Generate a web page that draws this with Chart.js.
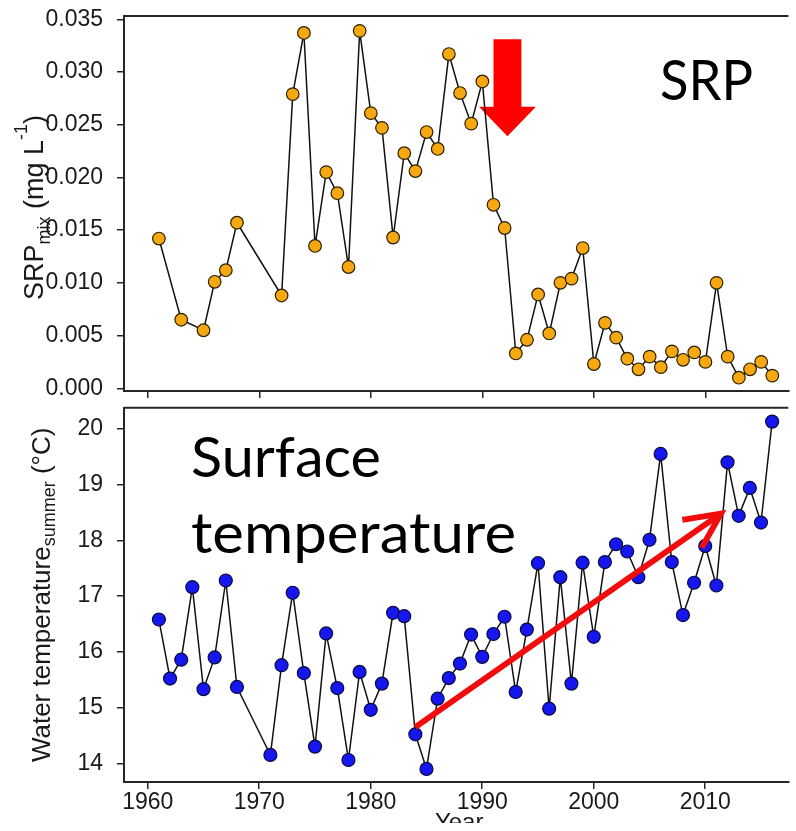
<!DOCTYPE html>
<html>
<head>
<meta charset="utf-8">
<script src="https://cdn.jsdelivr.net/npm/chart.js@4.4.1/dist/chart.umd.min.js"></script>
<style>
html,body{margin:0;padding:0;background:#fff;overflow:hidden;}
#wrap{position:relative;width:796px;height:831px;background:#fff;}
#srpChart{position:absolute;left:0;top:0;}
#tempChart{position:absolute;left:0;top:400px;}
</style>
</head>
<body>
<div id="wrap">
  <canvas id="srpChart" width="796" height="400"></canvas>
  <canvas id="tempChart" width="796" height="431"></canvas>
</div>
<script>
// SRP in the mixed layer (mg/L), yearly
const srpYears=[1961,1963,1965,1966,1967,1968,
  1972,1973,1974,1975,1976,1977,1978,1979,1980,1981,
  1982,1983,1984,1985,1986,1987,1988,1989,1990,1991,1992,1993,1994,1995,1996,1997,1998,1999,
  2000,2001,2002,2003,2004,2005,2006,2007,2008,2009,2010,2011,2012,2013,2014,2015,2016];
const srpValues=[0.0142,0.0065,0.0055,0.0101,0.0112,0.0157,
  0.0088,0.0279,0.0337,0.0135,0.0205,0.0185,0.0115,0.0339,0.0261,0.0247,
  0.0143,0.0223,0.0206,0.0243,0.0227,0.0317,0.0280,0.0251,0.0291,0.0174,0.0152,0.0033,0.0046,0.0089,0.0052,0.0100,0.0104,0.0133,
  0.0023,0.0062,0.0048,0.0028,0.0018,0.0030,0.0020,0.0035,0.0027,0.0034,0.0025,0.0100,0.0030,0.0010,0.0018,0.0025,0.0012];

// summer surface water temperature (°C)
const tempYears=[1961,1962,1963,1964,1965,1966,1967,1968,
  1971,1972,1973,1974,1975,1976,1977,1978,1979,1980,
  1981,1982,1983,1984,1985,1986,1987,1988,1989,1990,
  1991,1992,1993,1994,1995,1996,1997,1998,1999,2000,
  2001,2002,2003,2004,2005,2006,2007,2008,2009,2010,
  2011,2012,2013,2014,2015,2016];
const tempValues=[16.58,15.52,15.86,17.16,15.33,15.90,17.28,15.37,
  14.15,15.76,17.06,15.62,14.30,16.33,15.35,14.06,15.64,14.96,
  15.43,16.70,16.64,14.52,13.90,15.16,15.53,15.79,16.31,15.91,
  16.32,16.63,15.28,16.40,17.59,14.98,17.34,15.43,17.60,16.27,
  17.61,17.93,17.80,17.34,18.01,19.55,17.61,16.66,17.24,17.90,
  17.19,19.40,18.44,18.94,18.32,20.13];

const yearTicks=[1960,1970,1980,1990,2000,2010];
const srpTicks=[0,0.005,0.010,0.015,0.020,0.025,0.030,0.035];
const tempTicks=[14,15,16,17,18,19,20];

// arrow annotations, in axis units
const srpDropArrow={shaftL:1991.0,shaftR:1993.5,headL:1989.7,headR:1994.8,tipX:1992.25,top:0.0331,neck:0.0267,tip:0.0239};
const warmingArrow={x0:1984.0,y0:14.65,x1:2011.4,y1:18.48};

const SANS="'Liberation Sans', Arial, sans-serif";
const BIG="56px Lato, 'Open Sans', sans-serif";
const AXIS_COLOR="#262626";
const TEXT_COLOR="#1a1a1a";

function pairs(xs,ys){ return xs.map((x,i)=>({x:x,y:ys[i]})); }
function fixedTicks(list){ return function(axis){ axis.ticks=list.map(v=>({value:v})); }; }
// pin an axis box to a fixed size and drop label-overflow padding
function pinBox(w,h){
  return function(s){
    if(w!=null) s.width=w;
    if(h!=null) s.height=h;
    s.paddingTop=0; s.paddingBottom=0; s.paddingLeft=0; s.paddingRight=0;
  };
}

function drawVerticalTitle(ctx,parts,x,yMid){
  ctx.save();
  let total=0;
  parts.forEach(p=>{ ctx.font=p.size+"px "+SANS; p.w=ctx.measureText(p.text).width; total+=p.w; });
  ctx.translate(x,yMid);
  ctx.rotate(-Math.PI/2);
  ctx.fillStyle=TEXT_COLOR;
  ctx.textAlign="left";
  ctx.textBaseline="alphabetic";
  let cx=-total/2;
  parts.forEach(p=>{ ctx.font=p.size+"px "+SANS; ctx.fillText(p.text,cx,p.shift||0); cx+=p.w; });
  ctx.restore();
}

// big slide-style label, squeezed/stretched to a given width
function bigLabel(ctx,text,x,y,width){
  ctx.save();
  ctx.fillStyle="#000";
  ctx.font=BIG;
  ctx.textBaseline="alphabetic";
  const w=ctx.measureText(text).width;
  ctx.translate(x,y);
  ctx.scale(width/w,1);
  ctx.fillText(text,0,0);
  ctx.restore();
}

function topFrame(chart){
  const a=chart.chartArea, ctx=chart.ctx;
  ctx.save();
  ctx.strokeStyle=AXIS_COLOR;
  ctx.lineWidth=2;
  ctx.beginPath();
  ctx.moveTo(a.left,a.top);
  ctx.lineTo(a.right,a.top);
  ctx.stroke();
  ctx.restore();
}

function xScaleOpts(labels,h){
  return {
    type:"linear",min:1957.87,max:2017.45,
    afterBuildTicks:fixedTicks(yearTicks),
    afterFit:pinBox(null,h),
    border:{display:true,color:AXIS_COLOR,width:2},
    grid:{drawOnChartArea:false,drawTicks:true,tickLength:7,color:AXIS_COLOR,lineWidth:1.5},
    ticks:{display:labels,color:TEXT_COLOR,font:{family:SANS,size:23},padding:0,maxRotation:0,autoSkip:false,
      callback:v=>String(v)}
  };
}

function yScaleOpts(min,max,list,fmt){
  return {
    min:min,max:max,
    afterBuildTicks:fixedTicks(list),
    afterFit:pinBox(124,null),
    border:{display:true,color:AXIS_COLOR,width:2},
    grid:{drawOnChartArea:false,drawTicks:true,tickLength:7,color:AXIS_COLOR,lineWidth:1.5},
    ticks:{color:TEXT_COLOR,font:{family:SANS,size:23},padding:14,autoSkip:false,callback:fmt}
  };
}

// --- SRP panel ---
new Chart(document.getElementById("srpChart"),{
  type:"line",
  data:{datasets:[{
    data:pairs(srpYears,srpValues),
    borderColor:"#111",borderWidth:1.5,
    pointRadius:6.3,pointHoverRadius:6.3,pointBorderWidth:1.2,
    pointBackgroundColor:"#F5A810",pointBorderColor:"#2a2000",
    tension:0
  }]},
  options:{
    responsive:false,animation:false,
    layout:{padding:{top:16,right:0,bottom:0,left:0}},
    plugins:{legend:{display:false},tooltip:{enabled:false}},
    scales:{
      x:xScaleOpts(false,9),
      y:yScaleOpts(-0.00026,0.03531,srpTicks,v=>v.toFixed(3))
    }
  },
  plugins:[{
    id:"srpDecor",
    beforeDatasetsDraw(chart){
      const ctx=chart.ctx, xs=chart.scales.x, ys=chart.scales.y, A=srpDropArrow;
      const X=v=>xs.getPixelForValue(v), Y=v=>ys.getPixelForValue(v);
      ctx.save();
      ctx.fillStyle="#FF0000";
      ctx.beginPath();
      ctx.moveTo(X(A.shaftL),Y(A.top));
      ctx.lineTo(X(A.shaftR),Y(A.top));
      ctx.lineTo(X(A.shaftR),Y(A.neck));
      ctx.lineTo(X(A.headR),Y(A.neck));
      ctx.lineTo(X(A.tipX),Y(A.tip));
      ctx.lineTo(X(A.headL),Y(A.neck));
      ctx.lineTo(X(A.shaftL),Y(A.neck));
      ctx.closePath();
      ctx.fill();
      ctx.restore();
    },
    afterDraw(chart){
      const ctx=chart.ctx, a=chart.chartArea;
      topFrame(chart);
      drawVerticalTitle(ctx,[
        {text:"SRP",size:27},
        {text:"mix",size:18,shift:7},
        {text:" (mg L",size:27},
        {text:"-1",size:18,shift:-16},
        {text:")",size:27}
      ],43,(a.top+a.bottom)/2+4);
      bigLabel(ctx,"SRP",660,100,93);
    }
  }]
});

// --- temperature panel ---
new Chart(document.getElementById("tempChart"),{
  type:"line",
  data:{datasets:[{
    data:pairs(tempYears,tempValues),
    borderColor:"#111",borderWidth:1.5,
    pointRadius:6.5,pointHoverRadius:6.5,pointBorderWidth:1.2,
    pointBackgroundColor:"#1616EE",pointBorderColor:"#0a0a40",
    tension:0
  }]},
  options:{
    responsive:false,animation:false,
    layout:{padding:{top:7,right:0,bottom:0,left:0}},
    plugins:{legend:{display:false},tooltip:{enabled:false}},
    scales:{
      x:xScaleOpts(true,49),
      y:yScaleOpts(13.665,20.38,tempTicks,v=>String(v))
    }
  },
  plugins:[{
    id:"tempDecor",
    afterDatasetsDraw(chart){
      const ctx=chart.ctx, xs=chart.scales.x, ys=chart.scales.y, A=warmingArrow;
      const x0=xs.getPixelForValue(A.x0), y0=ys.getPixelForValue(A.y0);
      const x1=xs.getPixelForValue(A.x1), y1=ys.getPixelForValue(A.y1);
      const ang=Math.atan2(y0-y1,x0-x1), barb=36, spread=0.45;
      ctx.save();
      ctx.strokeStyle="#F20D0D";
      ctx.lineWidth=6;
      ctx.lineCap="butt";
      ctx.beginPath();
      ctx.moveTo(x0,y0);
      ctx.lineTo(x1,y1);
      ctx.stroke();
      ctx.lineCap="square";
      ctx.beginPath();
      ctx.moveTo(x1+barb*Math.cos(ang+spread),y1+barb*Math.sin(ang+spread));
      ctx.lineTo(x1,y1);
      ctx.lineTo(x1+barb*Math.cos(ang-spread),y1+barb*Math.sin(ang-spread));
      ctx.stroke();
      ctx.restore();
    },
    afterDraw(chart){
      const ctx=chart.ctx, a=chart.chartArea;
      topFrame(chart);
      drawVerticalTitle(ctx,[
        {text:"Water temperature",size:26},
        {text:"summer",size:18,shift:5},
        {text:" (\u00B0C)",size:26}
      ],50,(a.top+a.bottom)/2);
      // axis title sits below the visible edge
      ctx.save();
      ctx.beginPath();
      ctx.rect(0,0,chart.width,423);
      ctx.clip();
      ctx.fillStyle=TEXT_COLOR;
      ctx.font="24px "+SANS;
      ctx.textAlign="center";
      ctx.textBaseline="alphabetic";
      ctx.fillText("Year",(a.left+a.right)/2+3,430);
      ctx.restore();
      bigLabel(ctx,"Surface",191,77,190);
      bigLabel(ctx,"temperature",191,153,325);
    }
  }]
});
</script>
</body>
</html>
